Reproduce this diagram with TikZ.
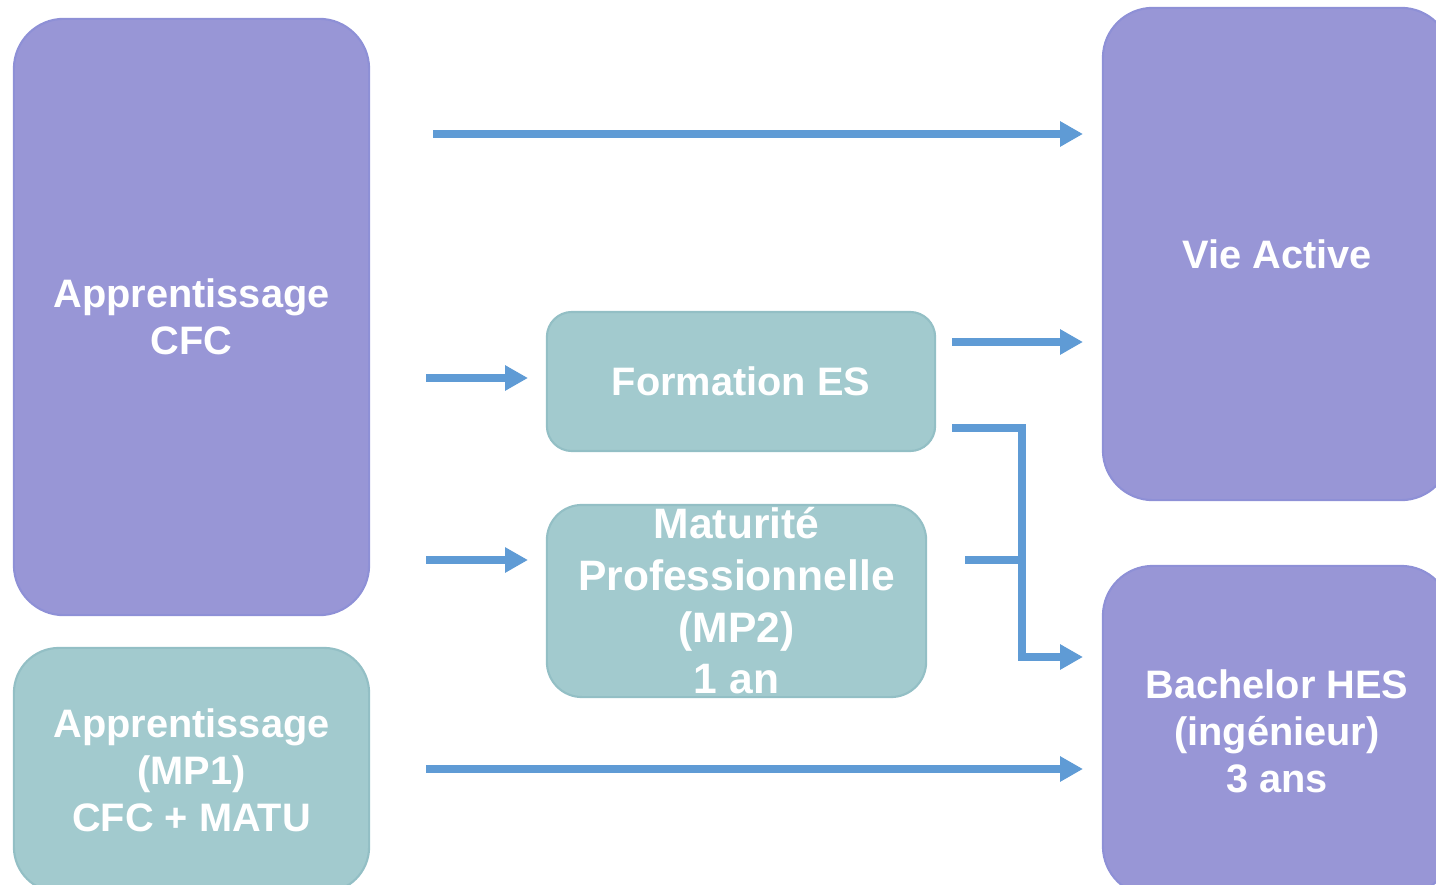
\documentclass[tikz,border=0pt]{standalone}
\usepackage{fontspec}
\setmainfont{Liberation Sans}
\usetikzlibrary{arrows.meta,positioning,calc}
\definecolor{lilas}{HTML}{9896D6}
\definecolor{lilasbord}{HTML}{8E90D6}
\definecolor{turq}{HTML}{A2CACE}
\definecolor{turqbord}{HTML}{93BFC5}
\definecolor{fleche}{HTML}{5F9BD5}

\begin{document}
\begin{tikzpicture}[
			x=0.01cm, y=-0.01cm, % une unite = un pixel
			box/.style={inner sep=0pt, align=center, text=white, line width=0.6pt,
				font=\fontsize{11.3}{13.4}\selectfont\bfseries},
			purplebox/.style={box, fill=lilas, draw=lilasbord},
			tealbox/.style={box, fill=turq, draw=turqbord},
			flow/.style={draw=fleche, line width=2pt, -{Triangle[length=6.5pt, width=6.8pt]}},
			joint/.style={draw=fleche, line width=2pt}]
		\useasboundingbox (0,0) rectangle (1436,885);
		\path 	(191.5,317) 	node 	(cfc) [purplebox, rounded corners=0.5cm, minimum width=3.55cm, minimum height=5.96cm] {Apprentissage\\CFC}
		        (191.5,770) 	node 	(mpun) [tealbox, rounded corners=0.45cm, minimum width=3.55cm, minimum height=2.44cm] {Apprentissage\\(MP1)\\CFC + MATU}
		        (741,381.5) 	node 	(es) [tealbox, rounded corners=0.25cm, minimum width=3.88cm, minimum height=1.39cm] {Formation ES}
		        (736.5,601) 	node 	(mpdeux) [tealbox, rounded corners=0.35cm, minimum width=3.79cm, minimum height=1.92cm,
		                                  font=\fontsize{12.1}{14.7}\selectfont\bfseries] {Maturité\\Professionnelle\\(MP2)\\1 an}
		        (1277,254) 	node 	(vie) [purplebox, rounded corners=0.5cm, minimum width=3.48cm, minimum height=4.92cm] {Vie Active}
		        (1277,731) 	node 	(hes) [purplebox, rounded corners=0.5cm, minimum width=3.48cm, minimum height=3.30cm] {Bachelor HES\\(ingénieur)\\3 ans};
		\coordinate (dvie) at (433,134);   \coordinate (avie) at (1083,134);
		\coordinate (des) at (426,378);    \coordinate (aes) at (528,378);
		\coordinate (dmp) at (426,560);    \coordinate (amp) at (528,560);
		\coordinate (esvie) at (952,342);  \coordinate (esvief) at (1083,342);
		\coordinate (eshes) at (952,428);  \coordinate (coin) at (1022,428);
		\coordinate (mphes) at (965,560);  \coordinate (noeud) at (1022,560);
		\coordinate (ahes) at (1083,657);
		\coordinate (dmpun) at (426,769);  \coordinate (ampun) at (1083,769);
		\draw [flow] (dvie) -- (avie);
		\draw [flow] (des) -- (aes);
		\draw [flow] (dmp) -- (amp);
		\draw [flow] (esvie) -- (esvief);
		\draw [flow] (eshes) -- (coin) |- (ahes);
		\draw [joint] (mphes) -- (noeud);
		\draw [flow] (dmpun) -- (ampun);
	\end{tikzpicture}
\end{document}
